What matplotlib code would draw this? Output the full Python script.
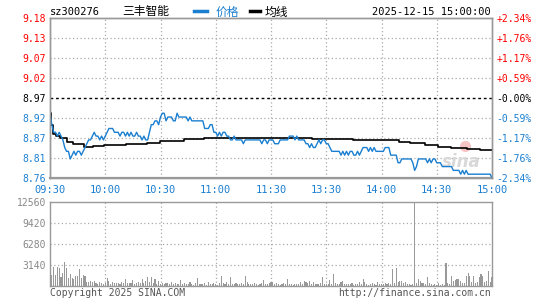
import numpy as np
import matplotlib
matplotlib.use("Agg")
import matplotlib.pyplot as plt
from matplotlib.lines import Line2D

# --- dados (1 ponto por minuto, 09:30-11:30 / 13:01-15:00) ---
prev_close = 8.97
price = [
    8.93, 8.90, 8.88, 8.88, 8.87, 8.88, 8.87, 8.86, 8.84, 8.83,
    8.83, 8.81, 8.82, 8.83, 8.82, 8.83, 8.83, 8.82, 8.83, 8.84,
    8.85, 8.86, 8.86, 8.87, 8.88, 8.87, 8.87, 8.86, 8.87, 8.86,
    8.87, 8.88, 8.89, 8.89, 8.89, 8.88, 8.88, 8.88, 8.87, 8.88,
    8.88, 8.87, 8.88, 8.87, 8.88, 8.87, 8.87, 8.88, 8.87, 8.87,
    8.86, 8.87, 8.86, 8.86, 8.88, 8.90, 8.90, 8.91, 8.91, 8.90,
    8.92, 8.93, 8.93, 8.91, 8.92, 8.92, 8.92, 8.91, 8.91, 8.93,
    8.92, 8.92, 8.92, 8.92, 8.92, 8.91, 8.92, 8.91, 8.91, 8.91,
    8.91, 8.91, 8.91, 8.91, 8.89, 8.89, 8.89, 8.90, 8.90, 8.88,
    8.88, 8.87, 8.88, 8.87, 8.88, 8.88, 8.87, 8.87, 8.86, 8.86,
    8.87, 8.86, 8.86, 8.86, 8.86, 8.85, 8.86, 8.86, 8.86, 8.86,
    8.86, 8.86, 8.86, 8.86, 8.86, 8.85, 8.86, 8.86, 8.85, 8.86,
    8.86,
    8.86, 8.85, 8.85, 8.85, 8.86, 8.86, 8.86, 8.86, 8.86, 8.87,
    8.87, 8.87, 8.86, 8.87, 8.86, 8.86, 8.86, 8.86, 8.85, 8.85,
    8.84, 8.85, 8.84, 8.84, 8.85, 8.86, 8.85, 8.86, 8.86, 8.85,
    8.85, 8.84, 8.83, 8.83, 8.83, 8.83, 8.83, 8.82, 8.83, 8.82,
    8.83, 8.82, 8.83, 8.83, 8.82, 8.82, 8.83, 8.82, 8.83, 8.84,
    8.84, 8.84, 8.83, 8.84, 8.83, 8.84, 8.83, 8.83, 8.83, 8.83,
    8.83, 8.84, 8.84, 8.84, 8.82, 8.82, 8.82, 8.82, 8.80, 8.80,
    8.81, 8.81, 8.81, 8.81, 8.81, 8.81, 8.80, 8.78, 8.79, 8.81,
    8.81, 8.81, 8.81, 8.81, 8.80, 8.81, 8.80, 8.81, 8.81, 8.80,
    8.80, 8.80, 8.79, 8.79, 8.79, 8.79, 8.79, 8.79, 8.78, 8.78,
    8.78, 8.78, 8.77, 8.78, 8.77, 8.78, 8.77, 8.77, 8.77, 8.77,
    8.77, 8.77, 8.77, 8.77, 8.77, 8.77, 8.77, 8.77, 8.77, 8.76,
]

# linha de média: patamares lidos e quantos minutos dura cada um
avg_levels = [8.930, 8.900, 8.875, 8.870, 8.865, 8.855, 8.848, 8.842, 8.845,
              8.847, 8.850, 8.853, 8.857, 8.858, 8.862, 8.864, 8.862, 8.860,
              8.855, 8.851, 8.847, 8.842, 8.840, 8.837, 8.833]
avg_counts = [1, 1, 2, 2, 4, 3, 6, 5, 6,
              12, 11, 7, 8, 5, 11, 59, 22, 25,
              6, 8, 7, 7, 9, 7, 7]

volume = [
    2890, 1640, 2890, 1640, 2890, 2640, 1400, 1890, 3640, 2640,
    1250, 1790, 1150, 1100, 1500, 1500, 2540, 1150, 1640, 1500,
    650, 650, 750, 650, 750, 400, 300, 650, 450, 350,
    500, 1150, 700, 350, 550, 400, 500, 450, 300, 600,
    450, 1050, 400, 450, 500, 900, 350, 450, 600, 400,
    1050, 450, 700, 1300, 600, 1400, 450, 1050, 300, 750,
    350, 500, 250, 400, 450, 300, 600, 250, 400, 350,
    250, 900, 300, 400, 250, 350, 550, 300, 200, 450,
    1150, 300, 250, 350, 400, 200, 550, 300, 250, 400,
    300, 200, 500, 1500, 400, 250, 600, 350, 1300, 300,
    250, 400, 350, 250, 450, 300, 1500, 600, 300, 350,
    250, 400, 300, 200, 350, 500, 900, 300, 250, 400,
    600,
    650, 300, 500, 300, 200, 250, 400, 300, 1100, 250,
    300, 200, 300, 250, 300, 600, 350, 800, 650, 500,
    700, 350, 600, 300, 250, 350, 400, 1400, 300, 250,
    350, 850, 300, 1850, 400, 250, 300, 600, 700, 250,
    300, 250, 300, 450, 200, 250, 300, 550, 300, 1100,
    600, 300, 200, 250, 400, 300, 200, 600, 300, 250,
    300, 400, 250, 500, 350, 2500, 400, 2640, 600, 800,
    800, 450, 650, 350, 300, 200, 350, 12560, 500, 1100,
    800, 500, 450, 300, 1400, 500, 250, 200, 300, 200,
    400, 200, 300, 200, 3390, 400, 300, 1550, 700, 900,
    1000, 1000, 700, 500, 400, 1550, 2000, 1500, 600, 1500,
    400, 600, 1350, 1800, 1500, 600, 800, 2300, 600, 1400,
]

time_labels = ["09:30", "10:00", "10:30", "11:00", "11:30",
               "13:30", "14:00", "14:30", "15:00"]
price_labels = ["8.76", "8.81", "8.87", "8.92", "8.97",
                "9.02", "9.07", "9.13", "9.18"]
pct_labels = ["-2.34%", "-1.76%", "-1.17%", "-0.59%", "-0.00%",
              "+0.59%", "+1.17%", "+1.76%", "+2.34%"]
vol_labels = ["3140", "6280", "9420", "12560"]
vol_max = 12560

# --- cores e estilo ---
BLUE = "#1a7fd0"
RED = "#ff0000"
GRID = "#aaaaaa"
FRAME = "#999999"
MONO = "DejaVu Sans Mono"
CJK = ["Noto Sans CJK SC", "DejaVu Sans"]

W, H = 545, 300
fig = plt.figure(figsize=(W / 100, H / 100), dpi=100)


def box(x0, y0, x1, y1):
    """Converte caixa em pixels (origem no topo) para coordenadas da figura."""
    return [x0 / W, 1 - y1 / H, (x1 - x0) / W, (y1 - y0) / H]


n = len(price)
x = np.arange(n)
avg = np.repeat(avg_levels, avg_counts)
grid_x = np.arange(30, n - 1, 30)

# ---------------- painel de preços ----------------
ax = fig.add_axes(box(50, 18, 492, 178))
low, high = 8.76, 9.18
levels = np.linspace(low, high, len(price_labels))
ax.set_xlim(0, n - 1)
ax.set_ylim(low, high)

for lv in levels[1:-1]:
    if abs(lv - prev_close) < 1e-6:
        ax.axhline(lv, color="black", lw=1, ls=(0, (2, 2)))
    else:
        ax.axhline(lv, color=GRID, lw=0.9, ls=(0, (1, 2)))
for gx in grid_x:
    ax.axvline(gx, color=GRID, lw=0.9, ls=(0, (1, 2)))

ax.plot(x, avg, color="black", lw=1.2, drawstyle="steps-mid", zorder=3)
ax.plot(x, price, color=BLUE, lw=1.0, zorder=4)


def level_color(lv):
    if abs(lv - prev_close) < 1e-6:
        return "black"
    return RED if lv > prev_close else BLUE


ax.set_yticks(levels)
ax.set_yticklabels(price_labels, fontfamily=MONO, fontsize=7)
for lbl, lv in zip(ax.get_yticklabels(), levels):
    lbl.set_color(level_color(lv))

ax2 = ax.twinx()
ax2.set_ylim(low, high)
ax2.set_yticks(levels)
ax2.set_yticklabels(pct_labels, fontfamily=MONO, fontsize=7)
for lbl, lv in zip(ax2.get_yticklabels(), levels):
    lbl.set_color(level_color(lv))

ax.set_xticks(np.arange(0, n, 30))
ax.set_xticklabels(time_labels, fontfamily=MONO, fontsize=7.5, color=BLUE)
for a in (ax, ax2):
    a.tick_params(length=0, pad=3)
    for s in a.spines.values():
        s.set_color(FRAME)
        s.set_linewidth(1)
ax.spines["bottom"].set_linewidth(1.6)
ax.tick_params(axis="x", pad=5)

# marca d'água
ax.text(0.93, 0.1, "sina", transform=ax.transAxes, fontsize=12,
        fontweight="bold", fontstyle="italic", color="#d8d8d8",
        ha="center", va="center", zorder=2)
ax.plot([0.94], [0.2], transform=ax.transAxes, marker="o", ms=7,
        color="#f6c4c4", zorder=2)

# ---------------- painel de volume ----------------
axv = fig.add_axes(box(50, 202, 492, 286))
axv.set_xlim(0, n - 1)
axv.set_ylim(0, vol_max)
vol_levels = np.linspace(0, vol_max, 5)[1:]
for lv in vol_levels[:-1]:
    axv.axhline(lv, color=GRID, lw=0.9, ls=(0, (1, 2)))
for gx in grid_x:
    axv.axvline(gx, color=GRID, lw=0.9, ls=(0, (1, 2)))
axv.bar(x, volume, width=0.6, color="#999999", zorder=3)
axv.set_yticks(vol_levels)
axv.set_yticklabels(vol_labels, fontfamily=MONO, fontsize=7, color="#888888")
axv.set_xticks([])
axv.tick_params(length=0, pad=3)
for s in axv.spines.values():
    s.set_color(FRAME)
    s.set_linewidth(1)

# ---------------- textos do topo / rodapé ----------------
fig.text(50 / W, 1 - 12 / H, "sz300276", fontfamily=MONO, fontsize=7.5,
         ha="left", va="center")
fig.text(122 / W, 1 - 12 / H, "三丰智能", family=CJK, fontsize=8.5,
         ha="left", va="center")
fig.add_artist(Line2D([194 / W, 207 / W], [1 - 11 / H] * 2,
                      color=BLUE, lw=2.5, transform=fig.transFigure))
fig.text(216 / W, 1 - 12 / H, "价格", family=CJK, fontsize=8.5,
         color=BLUE, ha="left", va="center")
fig.add_artist(Line2D([250 / W, 260 / W], [1 - 11 / H] * 2,
                      color="black", lw=2.5, transform=fig.transFigure))
fig.text(265 / W, 1 - 12 / H, "均线", family=CJK, fontsize=8.5,
         ha="left", va="center")
fig.text(491 / W, 1 - 12 / H, "2025-12-15 15:00:00", fontfamily=MONO,
         fontsize=7.5, ha="right", va="center")
fig.text(50 / W, 1 - 293 / H, "Copyright 2025 SINA.COM", fontfamily=MONO,
         fontsize=7, color="#555555", ha="left", va="center")
fig.text(491 / W, 1 - 293 / H, "http://finance.sina.com.cn", fontfamily=MONO,
         fontsize=7, color="#555555", ha="right", va="center")

fig.savefig("out.png", dpi=100)
